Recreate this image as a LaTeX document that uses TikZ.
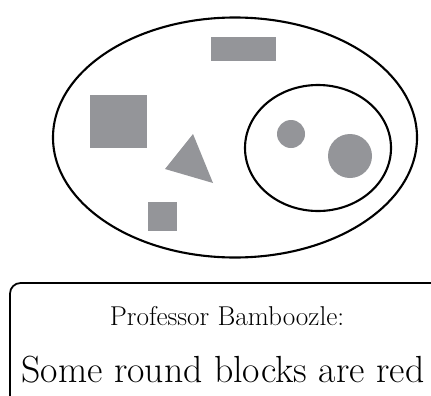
\documentclass[tikz,border=0pt]{standalone}
\usepackage{xcolor}
\usepackage{tikz}
\usetikzlibrary{positioning}

\definecolor{blockgray}{RGB}{148,149,153}

\begin{document}
\begin{tikzpicture}[
  x=0.02cm, y=-0.02cm,
  block/.style={fill=blockgray, draw=none},
  setline/.style={draw=black, line width=1.2pt},
  speaker/.style={font=\fontsize{15.5}{18}\selectfont, inner sep=0pt},
  claim/.style={font=\fontsize{21.5}{26}\selectfont, inner sep=0pt},
]
  \useasboundingbox (0,0) rectangle (431,395);
  \clip (0,0) rectangle (431,395);

  % sets
  \draw[setline] (235,137.5) ellipse[x radius=182, y radius=120];
  \draw[setline] (318,148) ellipse[x radius=73, y radius=63];

  % blocks
  \fill[block] (211,37) rectangle (276,61);
  \fill[block] (90,95) rectangle (147,148);
  \fill[block] (148,202) rectangle (177,231);
  \fill[block] (193,134) -- (165,169) -- (213,183) -- cycle;
  \fill[block] (291,134) circle[radius=14];
  \fill[block] (350,156) circle[radius=22];

  % speech box
  \draw[line width=1pt, rounded corners=6pt] (10,410) -- (10,283) -- (445,283);
  \node[speaker, anchor=base] (who) at (227,325) {Professor Bamboozle:};
  \node[claim, anchor=base] (says) at (223,382) {Some round blocks are red};
\end{tikzpicture}
\end{document}
